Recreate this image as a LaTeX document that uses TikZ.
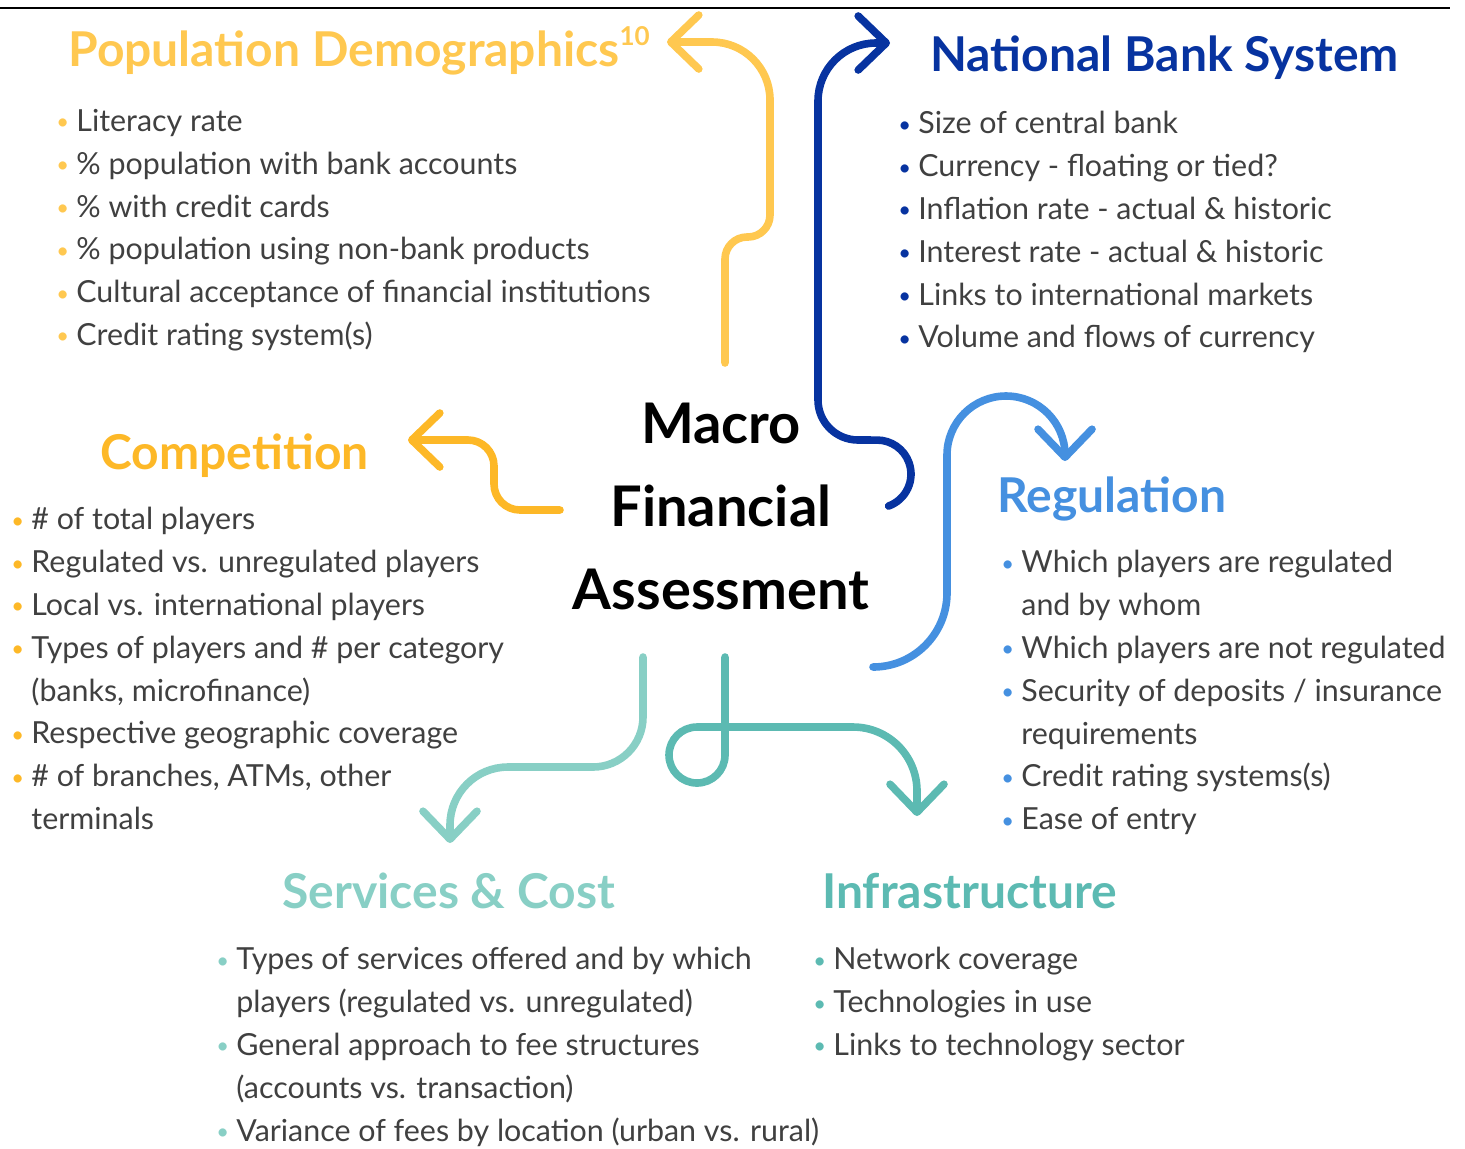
\documentclass[tikz,border=0pt]{standalone}
\usepackage{fontspec}
\setmainfont{Lato}
\usetikzlibrary{arrows.meta}

\definecolor{popY}{HTML}{FFC850}
\definecolor{compY}{HTML}{FDB827}
\definecolor{bankB}{HTML}{0733A0}
\definecolor{regB}{HTML}{4590E0}
\definecolor{servT}{HTML}{88CFC5}
\definecolor{infT}{HTML}{5CBAB2}
\definecolor{txt}{HTML}{404040}

% coloured bullet and hanging indent for the lists
\newcommand{\bl}[1]{\makebox[10pt][l]{\raisebox{0.8pt}{\fontsize{11}{11}\selectfont\textcolor{#1}{\textbullet}}}}
\newcommand{\cont}{\hspace*{10pt}}

\begin{document}
\begin{tikzpicture}[x=0.5pt, y=-0.5pt, every node/.style={inner sep=0pt}]
  \tikzstyle{head}=[anchor=base west, font=\fontsize{24}{28}\selectfont\bfseries]
  \tikzstyle{items}=[anchor=north west, align=left, text=txt, font=\fontsize{15.2}{21.4}\selectfont]
  \tikzstyle{flow}=[line width=3.8pt, line cap=round, line join=round, -{Straight Barb[length=14pt,width=27pt,round]}]
  \useasboundingbox (0,0) rectangle (1465,1148);
  \draw[line width=1pt] (0,8) -- (1450,8);

  % centre
  \node[anchor=north, align=center, font=\fontsize{28}{41.5}\selectfont\bfseries] (macro) at (721,403) {Macro\\Financial\\Assessment};

  % headings
  \node[head, text=popY] (popHead) at (68,66) {Population Demographics\raisebox{10.5pt}{\fontsize{13}{13}\selectfont 10}};
  \node[head, text=bankB] (bankHead) at (930,71) {National Bank System};
  \node[head, text=compY] (compHead) at (100,469) {Competition};
  \node[head, text=regB] (regHead) at (997,512) {Regulation};
  \node[head, text=servT] (servHead) at (282,908) {Services \& Cost};
  \node[head, text=infT] (infHead) at (822,908) {Infrastructure};

  % lists
  \node[items] (popList) at (56,109) {\bl{popY}Literacy rate\\
    \bl{popY}\% population with bank accounts\\
    \bl{popY}\% with credit cards\\
    \bl{popY}\% population using non-bank products\\
    \bl{popY}Cultural acceptance of financial institutions\\
    \bl{popY}Credit rating system(s)};
  \node[items] (bankList) at (898,111) {\bl{bankB}Size of central bank\\
    \bl{bankB}Currency - floating or tied?\\
    \bl{bankB}Inflation rate - actual \& historic\\
    \bl{bankB}Interest rate - actual \& historic\\
    \bl{bankB}Links to international markets\\
    \bl{bankB}Volume and flows of currency};
  \node[items] (compList) at (11,507) {\bl{compY}\# of total players\\
    \bl{compY}Regulated vs. unregulated players\\
    \bl{compY}Local vs. international players\\
    \bl{compY}Types of players and \# per category\\
    \cont(banks, microfinance)\\
    \bl{compY}Respective geographic coverage\\
    \bl{compY}\# of branches, ATMs, other\\
    \cont terminals};
  \node[items] (regList) at (1001,550) {\bl{regB}Which players are regulated\\
    \cont and by whom\\
    \bl{regB}Which players are not regulated\\
    \bl{regB}Security of deposits / insurance\\
    \cont requirements\\
    \bl{regB}Credit rating systems(s)\\
    \bl{regB}Ease of entry};
  \node[items] (servList) at (216,947) {\bl{servT}Types of services offered and by which\\
    \cont players (regulated vs. unregulated)\\
    \bl{servT}General approach to fee structures\\
    \cont(accounts vs. transaction)\\
    \bl{servT}Variance of fees by location (urban vs. rural)};
  \node[items] (infList) at (813,947) {\bl{infT}Network coverage\\
    \bl{infT}Technologies in use\\
    \bl{infT}Links to technology sector};

  % arrows out of the centre
  \coordinate (popTail) at (725,363);   \coordinate (popTip) at (667,42);
  \coordinate (bankTail) at (888.6,506); \coordinate (bankTip) at (890,43);
  \coordinate (compTail) at (560,510);  \coordinate (compTip) at (408,440);
  \coordinate (regTail) at (873,667);   \coordinate (regTip) at (1065,461);
  \coordinate (servTail) at (643,657);  \coordinate (servTip) at (450,843);
  \coordinate (infTail) at (725,657);   \coordinate (infTip) at (917,816);

  \draw[flow, popY] (popTail) -- (725,259) arc[start angle=180, end angle=90, radius=11pt]
    -- (748,237) arc[start angle=-90, end angle=0, radius=11pt]
    -- (770,100) arc[start angle=0, end angle=90, radius=29pt] -- (popTip);
  \draw[flow, bankB] (bankTail) arc[start angle=-70, end angle=90, radius=17pt]
    -- (858,440) arc[start angle=-90, end angle=-180, radius=20pt]
    -- (818,101) arc[start angle=180, end angle=90, radius=29pt] -- (bankTip);
  \draw[flow, compY] (compTail) -- (520,510) arc[start angle=-90, end angle=-180, radius=13pt]
    -- (494,466) arc[start angle=0, end angle=90, radius=13pt] -- (compTip);
  \draw[flow, regB] (regTail) arc[start angle=-90, end angle=0, radius=37pt]
    -- (947,455) arc[start angle=180, end angle=0, radius=29.5pt] -- (regTip);
  \draw[flow, servT] (servTail) -- (643,717) arc[start angle=0, end angle=-90, radius=25pt]
    -- (508,767) arc[start angle=90, end angle=180, radius=29pt] -- (servTip);
  \draw[flow, infT] (infTail) -- (725,755) arc[start angle=0, end angle=-270, radius=14pt]
    -- (853,727) arc[start angle=90, end angle=0, radius=32pt] -- (infTip);
\end{tikzpicture}
\end{document}
